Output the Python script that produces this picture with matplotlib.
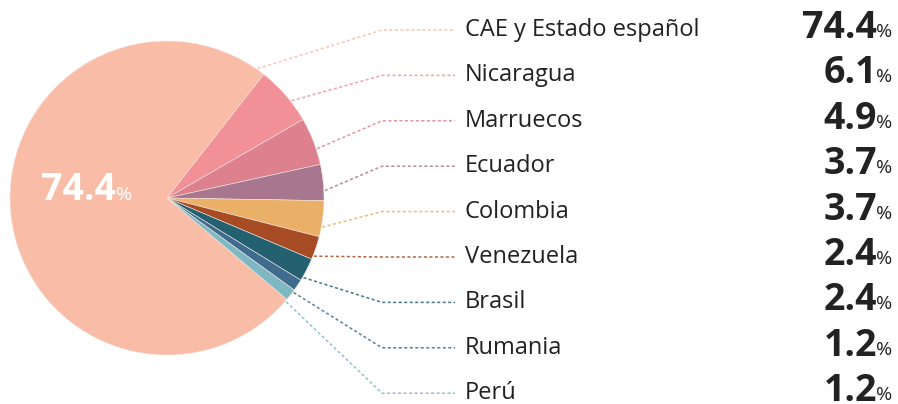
import numpy as np
import matplotlib
matplotlib.use('Agg')
import matplotlib.pyplot as plt

# data
paises = ['CAE y Estado español', 'Nicaragua', 'Marruecos', 'Ecuador', 'Colombia',
          'Venezuela', 'Brasil', 'Rumania', 'Perú']
porcentajes = [74.4, 6.1, 4.9, 3.7, 3.7, 2.4, 2.4, 1.2, 1.2]
colores = ['#F9BCA6', '#F29097', '#DE818F', '#A8768F', '#EBB068',
           '#A64B24', '#236170', '#3E6B8E', '#7EB8C3']

plt.rcParams['font.family'] = ['Open Sans', 'DejaVu Sans']

W, H = 898, 404
fig = plt.figure(figsize=(W / 100, H / 100), dpi=100)
ax = fig.add_axes([0, 0, 1, 1])

cx, cy, r = 167, H - 198, 157
start = -40.2
wedges, _ = ax.pie(porcentajes, colors=colores, startangle=start, counterclock=False,
                   center=(cx, cy), radius=r, frame=True,
                   wedgeprops=dict(edgecolor='#f3e6e0', linewidth=0.4))
ax.set_xlim(0, W)
ax.set_ylim(0, H)
ax.axis('off')

# leader lines and labels
total = sum(porcentajes)
ang = start
row0, paso = H - 30, 45.4
for i, (nombre, val, col) in enumerate(zip(paises, porcentajes, colores)):
    span = val / total * 360
    a1 = ang
    a2 = ang - span
    ang = a2
    if i == 0:
        a_ref = a2 + 360 + 3
    else:
        a_ref = (a1 + a2) / 2 - 3
    px = cx + (r + 1) * np.cos(np.radians(a_ref))
    py = cy + (r + 1) * np.sin(np.radians(a_ref))
    ly = row0 - i * paso
    ax.plot([px, 382, 455], [py, ly, ly], color=col, lw=1.1, alpha=0.85,
            dashes=(2, 1.6), solid_capstyle='butt')
    ax.text(465, ly, nombre, fontsize=17, color='#222222', va='center', ha='left')
    ax.text(877, ly + 2, f'{val:.1f}', fontsize=27, fontweight='bold', color='#222222',
            va='center', ha='right')
    ax.text(876, ly - 2, '%', fontsize=14, color='#222222', va='center', ha='left')

ax.text(116, H - 190, f'{porcentajes[0]:.1f}', fontsize=27, fontweight='bold',
        color='white', va='center', ha='right')
ax.text(116, H - 195, '%', fontsize=14, color='white', va='center', ha='left')

fig.savefig('out.png', dpi=100)
